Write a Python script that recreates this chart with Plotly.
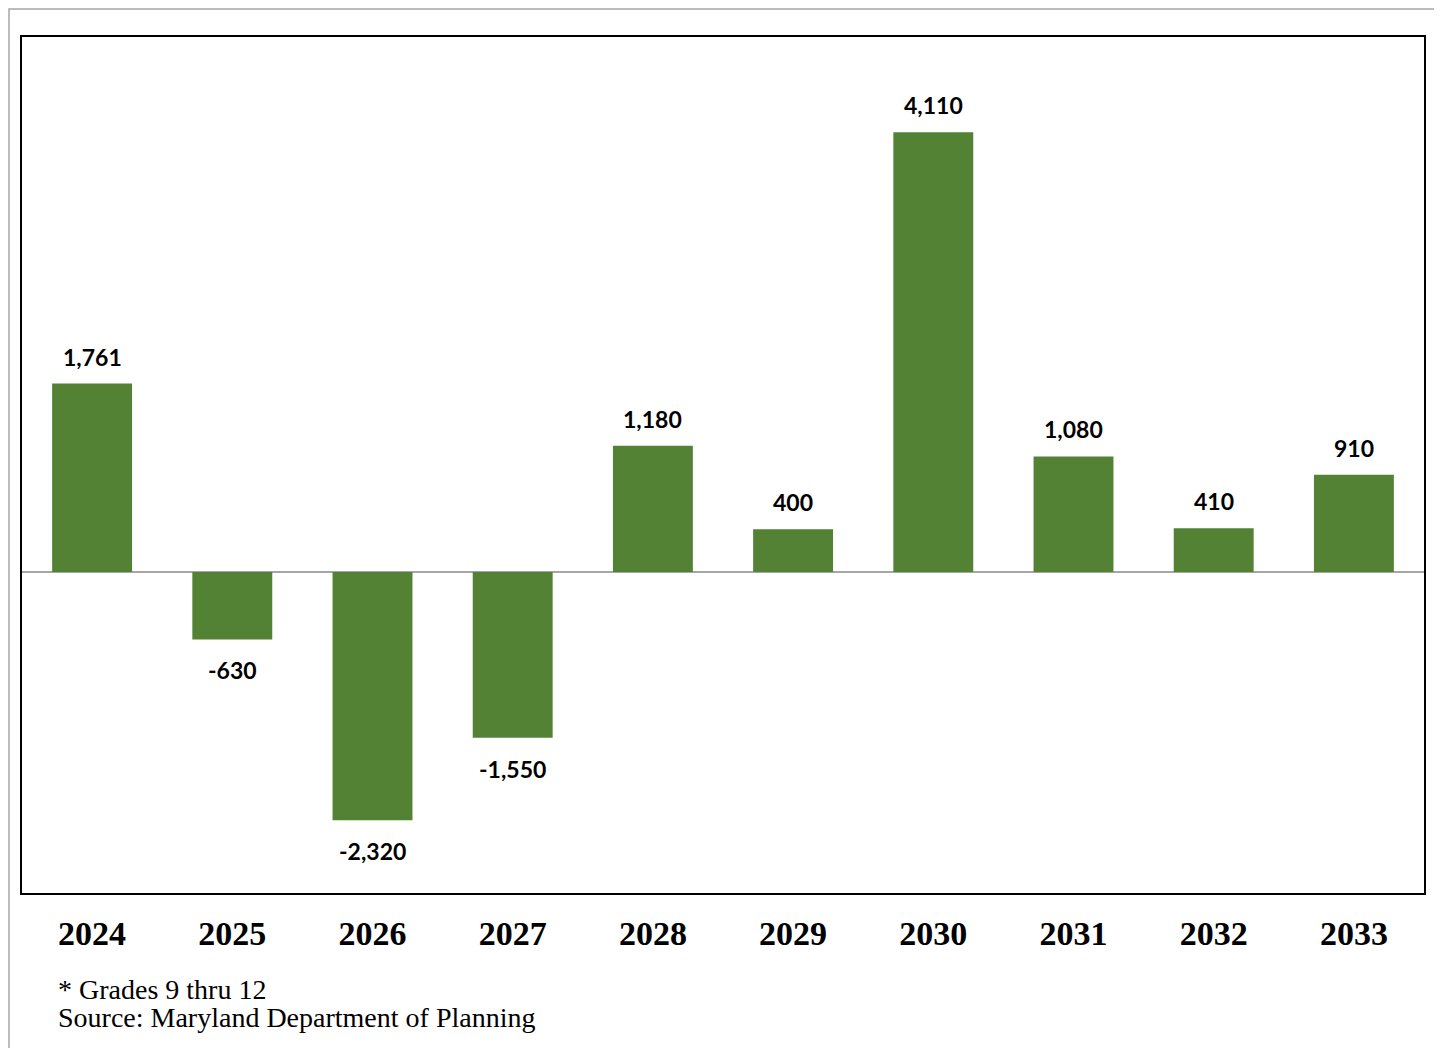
import plotly.graph_objects as go

years = ["2024", "2025", "2026", "2027", "2028", "2029", "2030", "2031", "2032", "2033"]
values = [1761, -630, -2320, -1550, 1180, 400, 4110, 1080, 410, 910]
labels = ["1,761", "-630", "-2,320", "-1,550", "1,180", "400", "4,110", "1,080", "410", "910"]
footnotes = ["* Grades 9 thru 12", "Source: Maryland Department of Planning"]

# the page body adds an 8px offset; figure coordinates below compensate for it
OFF = 8
W, H = 1442, 1048
L, R, T, B = 22 - OFF, 1424 - OFF, 37 - OFF, 893 - OFF
PH = B - T
PW = R - L


def py(p):
    return (B - (p - OFF)) / PH


def px(p):
    return ((p - OFF) - L) / PW


xpos = list(range(len(years)))

fig = go.Figure()
fig.add_trace(go.Bar(
    x=xpos, y=values, width=0.57,
    marker=dict(color="#548235", line=dict(width=0)),
    hoverinfo="skip",
))

for xi, v, t in zip(xpos, values, labels):
    fig.add_annotation(
        x=xi, y=v, text=t, showarrow=False, xref="x", yref="y",
        yanchor="middle", yshift=27 if v >= 0 else -31,
        font=dict(family="Lato", size=23, color="#000000", weight="bold"),
    )

for t, p in zip(footnotes, [989, 1018]):
    fig.add_annotation(
        x=px(56), y=py(p), text=t, showarrow=False, xref="paper", yref="paper",
        xanchor="left", yanchor="middle",
        font=dict(family="Liberation Serif", size=28, color="#000000"),
    )

fig.add_shape(
    type="rect", xref="paper", yref="paper",
    x0=px(OFF + 1), x1=px(1438.5), y0=py(1070), y1=py(OFF + 1),
    line=dict(color="#a6a6a6", width=1.5), layer="below",
)

fig.update_layout(
    width=W, height=H,
    margin=dict(l=L, r=W - R, t=T, b=H - B, pad=0, autoexpand=False),
    paper_bgcolor="white", plot_bgcolor="white",
    showlegend=False,
    xaxis=dict(
        type="linear", range=[-0.5, len(years) - 0.5], automargin=False,
        tickmode="array", tickvals=xpos, ticktext=years,
        showline=True, mirror=True, linecolor="#000000", linewidth=2,
        showgrid=False, zeroline=False, ticks="", ticklabelstandoff=9,
        tickfont=dict(family="Liberation Serif", size=34, color="#000000", weight="bold"),
    ),
    yaxis=dict(
        range=[-3000, 5000], automargin=False,
        showline=True, mirror=True, linecolor="#000000", linewidth=2,
        showgrid=False, showticklabels=False, ticks="",
        zeroline=True, zerolinecolor="#a6a6a6", zerolinewidth=1.5,
    ),
)

fig.write_html("out.html")
